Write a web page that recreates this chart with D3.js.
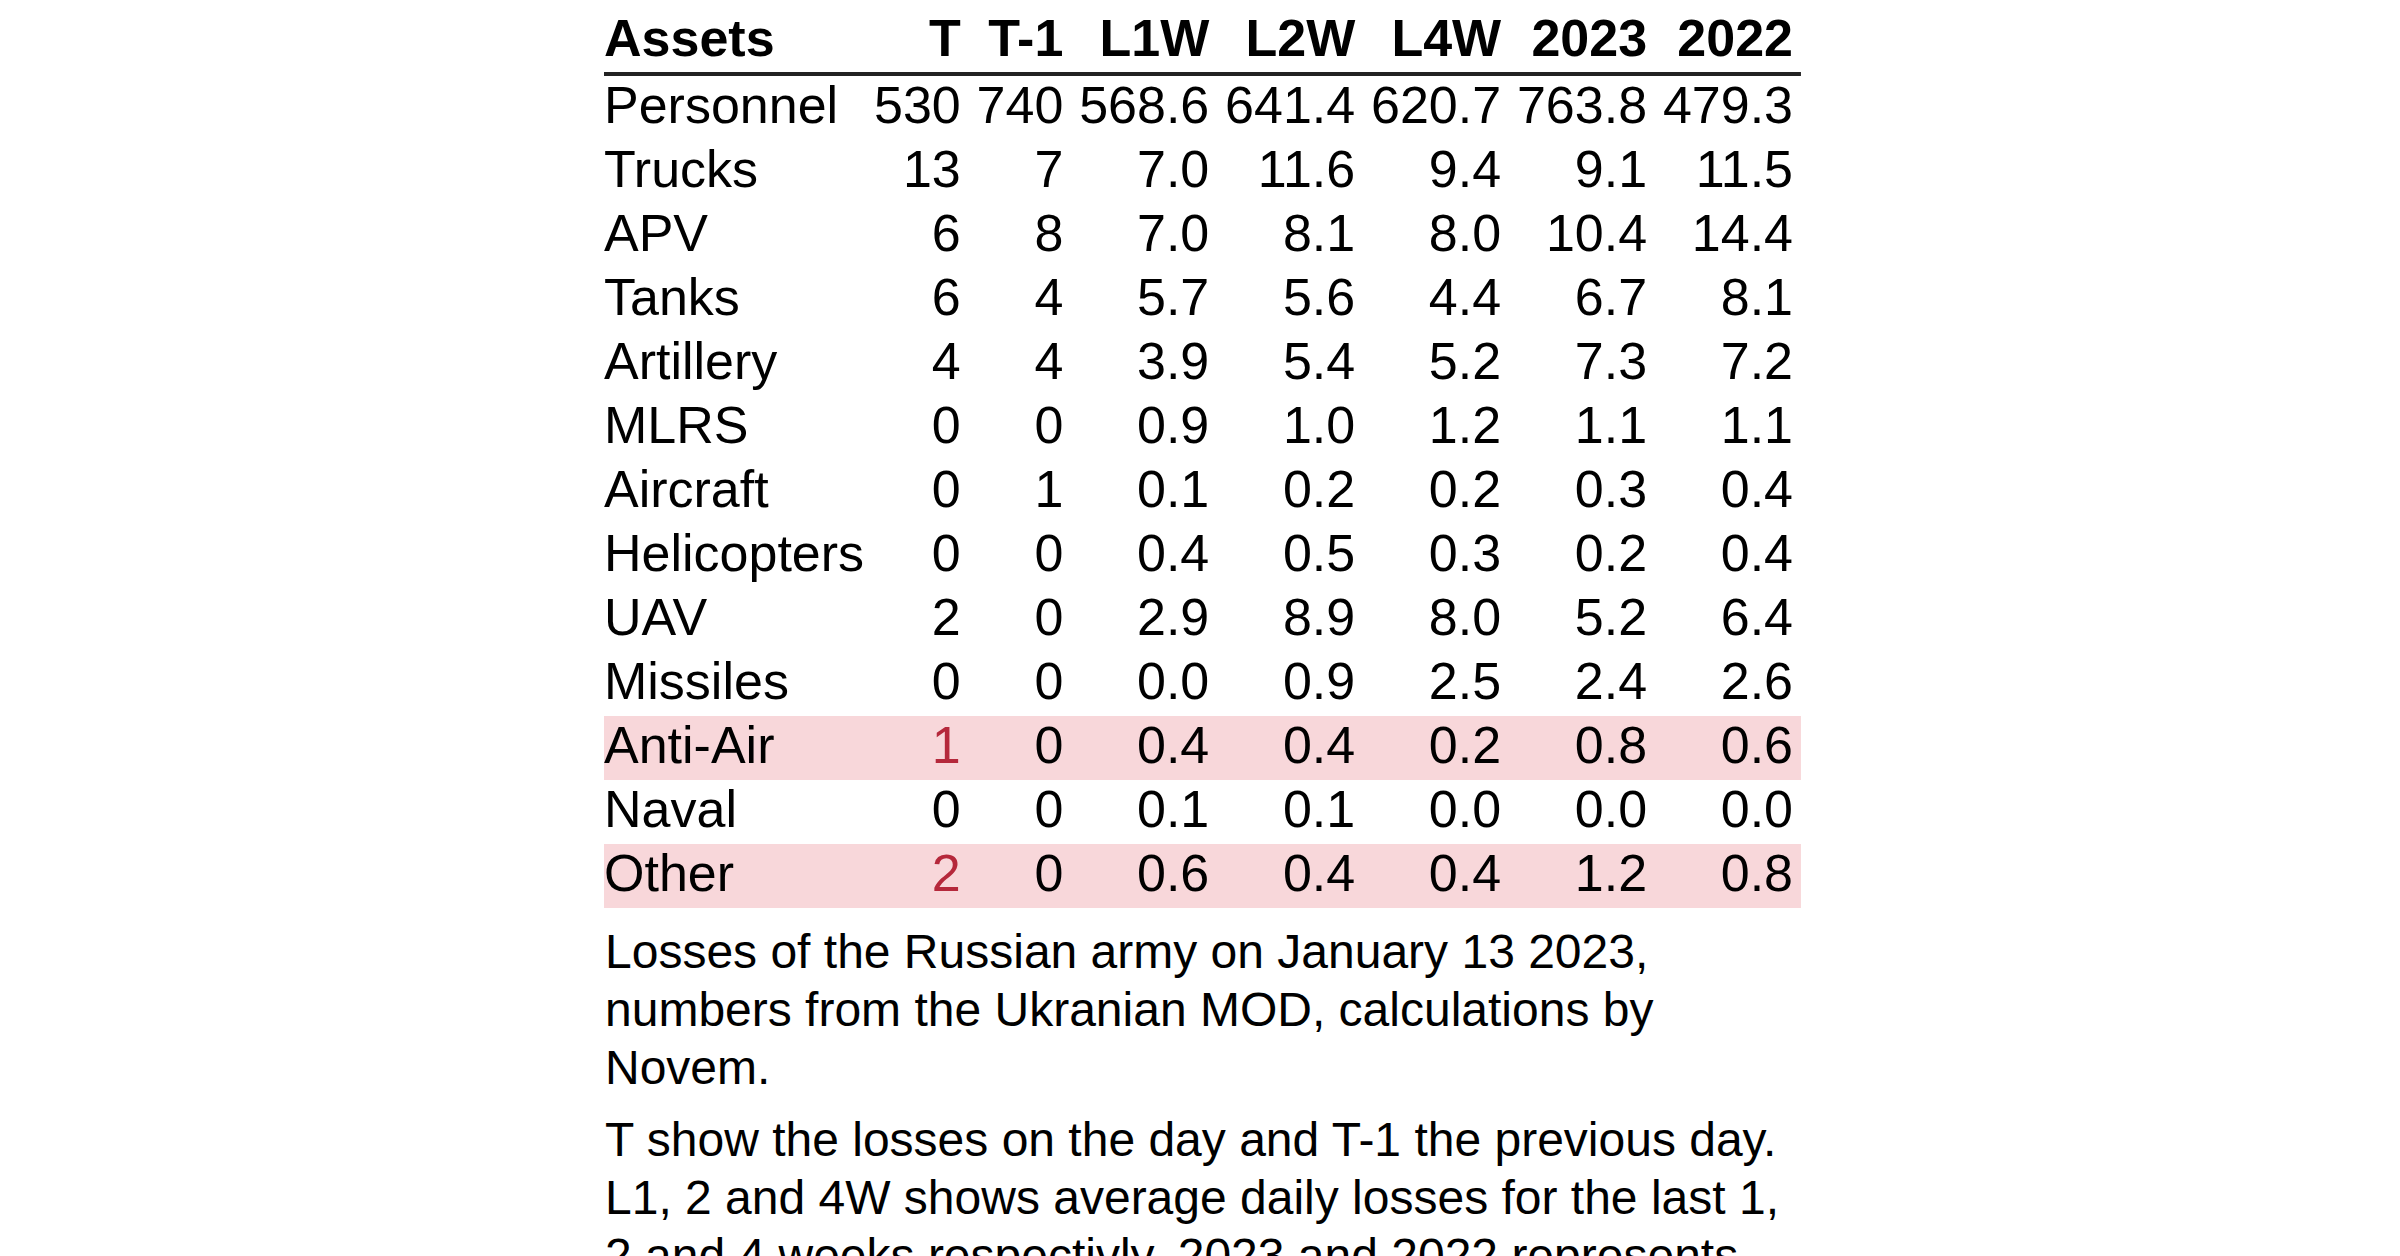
<!DOCTYPE html>
<html>
<head>
<meta charset="utf-8">
<script src="https://cdn.jsdelivr.net/npm/d3@7"></script>
<style>
  html, body { margin: 0; padding: 0; background: #ffffff; }
  svg { display: block; }
  text { font-family: "Liberation Sans", Arial, sans-serif; fill: #000000; }
</style>
</head>
<body>
<script>
//
// DATA
const assets = ["Personnel", "Trucks", "APV", "Tanks", "Artillery", "MLRS", "Aircraft",
                "Helicopters", "UAV", "Missiles", "Anti-Air", "Naval", "Other"];
const columns = ["T", "T-1", "L1W", "L2W", "L4W", "2023", "2022"];
const valT    = [530, 13, 6, 6, 4, 0, 0, 0, 2, 0, 1, 0, 2];
const valT1   = [740, 7, 8, 4, 4, 0, 1, 0, 0, 0, 0, 0, 0];
const valL1W  = [568.6, 7.0, 7.0, 5.7, 3.9, 0.9, 0.1, 0.4, 2.9, 0.0, 0.4, 0.1, 0.6];
const valL2W  = [641.4, 11.6, 8.1, 5.6, 5.4, 1.0, 0.2, 0.5, 8.9, 0.9, 0.4, 0.1, 0.4];
const valL4W  = [620.7, 9.4, 8.0, 4.4, 5.2, 1.2, 0.2, 0.3, 8.0, 2.5, 0.2, 0.0, 0.4];
const val2023 = [763.8, 9.1, 10.4, 6.7, 7.3, 1.1, 0.3, 0.2, 5.2, 2.4, 0.8, 0.0, 1.2];
const val2022 = [479.3, 11.5, 14.4, 8.1, 7.2, 1.1, 0.4, 0.4, 6.4, 2.6, 0.6, 0.0, 0.8];
const highlighted = ["Anti-Air", "Other"];
const captions = [
    "Losses of the Russian army on January 13 2023, numbers from the Ukranian MOD, calculations by Novem.",
    "T show the losses on the day and T-1 the previous day. L1, 2 and 4W shows average daily losses for the last 1, 2 and 4 weeks respectivly. 2023 and 2022 represents the average daily losses for the year."
];

//
// SIZES AND STYLES
const WIDTH = 2400;
const HEIGHT = 1256;
const LEFT = 604;
const HEADER_BASE = 56;
const RULE_Y = 74;
const ROW_TOP = 76;
const ROW_H = 64;
const ROW_BASE = 47;
const FONT = 52;
const CAP_FONT = 48;
const CAP_LINE = 58;
const CAP_GAP = 14;
const PAD = 7.9;
const FIRST_PAD = 2;
const HILITE = "#f8d7da";
const RED = "#b5283b";

const series = [valT, valT1, valL1W, valL2W, valL4W, val2023, val2022];
const fmtInt = d3.format("d");
const fmtDec = d3.format(".1f");
const fmt = (c, v) => (c === "T" || c === "T-1") ? fmtInt(v) : fmtDec(v);

const svg = d3.select("body").append("svg")
    .attr("width", WIDTH)
    .attr("height", HEIGHT);

//
// MEASURE TEXT FOR COLUMN WIDTHS
const probe = svg.append("text").attr("font-size", FONT);
function textWidth(s, bold) {
    probe.attr("font-weight", bold ? "bold" : "normal").text(s);
    return probe.node().getComputedTextLength();
}
const firstW = d3.max(assets, a => textWidth(a, false)) + FIRST_PAD;
const colW = columns.map((c, i) =>
    Math.max(textWidth(c, true), d3.max(series[i], v => textWidth(fmt(c, v), false))) + 2 * PAD);
probe.remove();

const rightEdges = [];
let acc = LEFT + firstW;
colW.forEach(w => { acc += w; rightEdges.push(acc - PAD); });
const tableRight = acc;

const x = d3.scaleOrdinal().domain(columns).range(rightEdges);
const y = d3.scaleBand().domain(assets).range([ROW_TOP, ROW_TOP + assets.length * ROW_H]);

//
// HIGHLIGHT BANDS
svg.selectAll("rect.hilite")
    .data(assets.filter(a => highlighted.includes(a)))
    .enter()
    .append("rect")
    .attr("class", "hilite")
    .attr("x", LEFT)
    .attr("y", d => y(d))
    .attr("width", tableRight - LEFT)
    .attr("height", y.bandwidth())
    .attr("fill", HILITE);

//
// HEADER
svg.append("text")
    .attr("x", LEFT)
    .attr("y", HEADER_BASE)
    .attr("font-size", FONT)
    .attr("font-weight", "bold")
    .text("Assets");
svg.selectAll("text.head")
    .data(columns)
    .enter()
    .append("text")
    .attr("class", "head")
    .attr("x", d => x(d))
    .attr("y", HEADER_BASE)
    .attr("text-anchor", "end")
    .attr("font-size", FONT)
    .attr("font-weight", "bold")
    .text(d => d);

svg.append("line")
    .attr("x1", LEFT)
    .attr("x2", tableRight)
    .attr("y1", RULE_Y)
    .attr("y2", RULE_Y)
    .attr("stroke", "#222222")
    .attr("stroke-width", 4);

//
// ROWS
const rows = svg.selectAll("g.row")
    .data(assets)
    .enter()
    .append("g")
    .attr("class", "row")
    .attr("transform", d => "translate(0," + (y(d) + ROW_BASE) + ")");

rows.append("text")
    .attr("x", LEFT)
    .attr("font-size", FONT)
    .text(d => d);

rows.selectAll("text.val")
    .data((a, r) => columns.map((c, i) => ({ asset: a, col: c, v: series[i][r] })))
    .enter()
    .append("text")
    .attr("class", "val")
    .attr("x", d => x(d.col))
    .attr("text-anchor", "end")
    .attr("font-size", FONT)
    .style("fill", d => (d.col === "T" && highlighted.includes(d.asset)) ? RED : "#000000")
    .text(d => fmt(d.col, d.v));

//
// CAPTION, WRAPPED TO TABLE WIDTH
const maxW = tableRight - LEFT;
let baseY = y.range()[1] + 60;
captions.forEach(para => {
    const words = para.split(" ");
    let line = [];
    const t = svg.append("text").attr("font-size", CAP_FONT);
    let tspan = t.append("tspan").attr("x", LEFT + 1).attr("y", baseY);
    words.forEach(w => {
        line.push(w);
        tspan.text(line.join(" "));
        if (tspan.node().getComputedTextLength() > maxW && line.length > 1) {
            line.pop();
            tspan.text(line.join(" "));
            line = [w];
            baseY += CAP_LINE;
            tspan = t.append("tspan").attr("x", LEFT + 1).attr("y", baseY).text(w);
        }
    });
    baseY += CAP_LINE + CAP_GAP;
});
</script>
</body>
</html>
